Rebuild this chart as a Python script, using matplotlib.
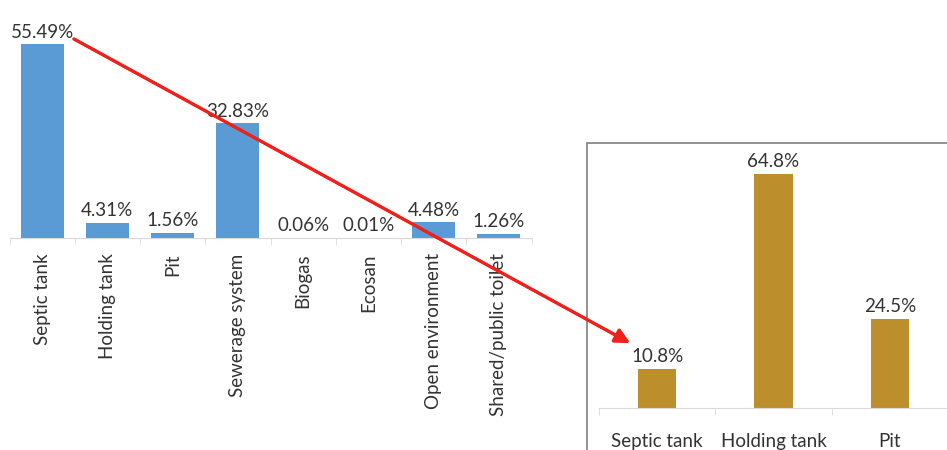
import matplotlib.pyplot as plt
from matplotlib.patches import Rectangle
import numpy as np

plt.rcParams['font.family'] = ['Lato', 'DejaVu Sans']

# destination of faecal sludge, all households
dest_labels = ['Septic tank', 'Holding tank', 'Pit', 'Sewerage system', 'Biogas',
               'Ecosan', 'Open environment', 'Shared/public toilet']
dest_share = [55.49, 4.31, 1.56, 32.83, 0.06, 0.01, 4.48, 1.26]

# emptied containment types
empty_labels = ['Septic tank', 'Holding tank', 'Pit']
empty_share = [10.8, 64.8, 24.5]

W, H = 947, 450
fig = plt.figure(figsize=(W / 100, H / 100), dpi=100)


def px_axes(x0, y0, x1, y1):
    # axes from pixel box (top-left origin)
    return fig.add_axes([x0 / W, 1 - y1 / H, (x1 - x0) / W, (y1 - y0) / H])


txt = '#333333'
grid = '#d9d9d9'
fs_lab = 13.5
fs_val = 13.5


def style(ax, n):
    for s in ['top', 'right', 'left']:
        ax.spines[s].set_visible(False)
    ax.spines['bottom'].set_color(grid)
    ax.set_yticks([])
    ax.set_xticks(np.arange(n))
    ax.set_xticks(np.arange(n + 1) - 0.5, minor=True)
    ax.tick_params(axis='x', which='major', length=0, colors=txt)
    ax.tick_params(axis='x', which='minor', length=5, color=grid)
    ax.set_xlim(-0.5, n - 0.5)
    ax.patch.set_alpha(0)


# left chart
ax1 = px_axes(9.5, 20, 531.5, 238)
x1 = np.arange(len(dest_share))
ax1.bar(x1, dest_share, width=0.66, color='#5b9bd5')
ax1.set_ylim(0, 62.4)
style(ax1, len(dest_share))
ax1.set_xticklabels(dest_labels, rotation=90, fontsize=fs_lab)
ax1.tick_params(axis='x', which='major', pad=11)
for xi, v in zip(x1, dest_share):
    ax1.text(xi, v + 1.0, f'{v:.2f}%', ha='center', va='bottom', fontsize=fs_val, color=txt)

# right chart inside a framed box
fig.patches.append(Rectangle((587 / W, -0.2), 1, 1.2 - 143 / H, transform=fig.transFigure,
                             fill=False, edgecolor='#7f7f7f', lw=1.2, clip_on=False))
ax2 = px_axes(599, 150, 948, 408)
x2 = np.arange(len(empty_share))
ax2.bar(x2, empty_share, width=0.33, color='#bc8f2c')
ax2.set_ylim(0, 71.4)
style(ax2, len(empty_share))
ax2.set_xticklabels(empty_labels, fontsize=fs_lab)
ax2.tick_params(axis='x', which='major', pad=18)
for xi, v in zip(x2, empty_share):
    ax2.text(xi, v + 1.2, f'{v:.1f}%', ha='center', va='bottom', fontsize=fs_val, color=txt)

# arrow linking septic tank share to emptied septic tanks
fig.add_artist(plt.annotate('', xy=(630 / W, 1 - 343 / H), xytext=(74 / W, 1 - 39 / H),
                            xycoords='figure fraction', textcoords='figure fraction',
                            arrowprops=dict(arrowstyle='-|>', color='#f0201a', lw=2.2,
                                            mutation_scale=22, shrinkA=0, shrinkB=0)))

fig.savefig('out.png', dpi=100)
